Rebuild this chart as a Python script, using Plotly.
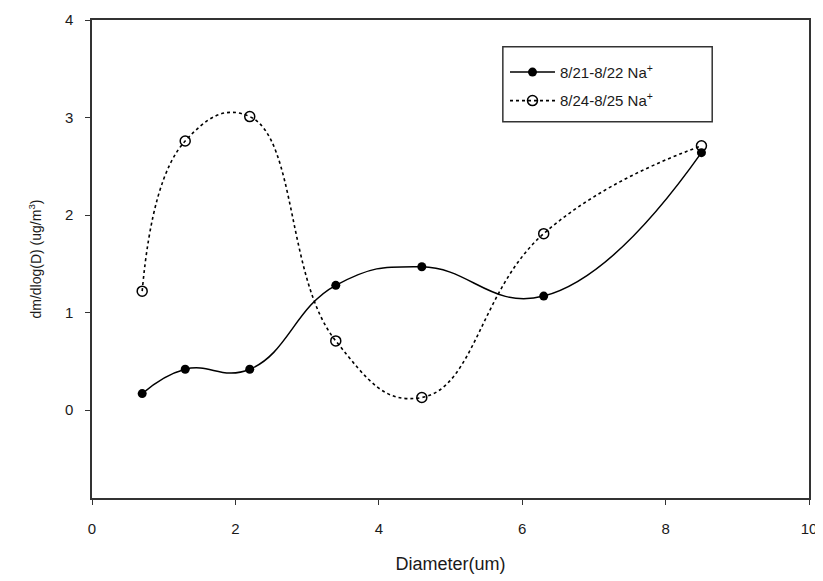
import plotly.graph_objects as go

diameter = [0.7, 1.3, 2.2, 3.4, 4.6, 6.3, 8.5]
na_0821 = [0.17, 0.42, 0.42, 1.28, 1.47, 1.17, 2.64]
na_0824 = [1.22, 2.76, 3.01, 0.71, 0.13, 1.81, 2.71]
series_names = ["8/21-8/22 Na<sup>+</sup>", "8/24-8/25 Na<sup>+</sup>"]
x_ticks = [0, 2, 4, 6, 8, 10]
y_ticks = [0, 1, 2, 3, 4]

fig = go.Figure()
fig.add_trace(go.Scatter(
    x=diameter, y=na_0821, name=series_names[0], mode="lines+markers",
    legendgroup="a",
    line=dict(color="black", width=1.5, shape="spline", smoothing=1.3),
    marker=dict(symbol="circle", size=9, color="black"),
))
fig.add_trace(go.Scatter(
    x=diameter, y=na_0824, name=series_names[1], mode="lines+markers",
    legendgroup="b",
    line=dict(color="black", width=1.6, dash="dot", shape="spline", smoothing=1.3),
    marker=dict(symbol="circle-open", size=10, color="black", line=dict(width=1.5)),
))

fig.update_layout(
    width=815, height=573,
    margin=dict(l=84, r=14, t=12, b=83, autoexpand=False),
    paper_bgcolor="white", plot_bgcolor="white",
    font=dict(family="Arial, Liberation Sans, sans-serif", color="#1a1a1a", size=14),
    legend=dict(
        x=0.576, y=0.925, xanchor="left", yanchor="top",
        borderwidth=0, bgcolor="rgba(0,0,0,0)",
        font=dict(size=15), tracegroupgap=6, itemwidth=45,
    ),
    shapes=[dict(
        type="rect", xref="paper", yref="paper",
        x0=0.573, x1=0.865, y0=0.787, y1=0.944,
        line=dict(color="#333", width=1.5), fillcolor="rgba(0,0,0,0)",
    )],
    xaxis=dict(
        range=[0, 10], tickvals=x_ticks, showgrid=False, zeroline=False,
        showline=True, linecolor="#333", linewidth=1.5, mirror=True,
        ticks="outside", ticklen=5, tickcolor="#333", automargin=False,
        ticklabelstandoff=11, tickfont=dict(size=15),
        title=dict(text="Diameter(um)", font=dict(size=18), standoff=22),
    ),
    yaxis=dict(
        range=[-0.9, 4], tickvals=y_ticks, showgrid=False, zeroline=False,
        showline=True, linecolor="#333", linewidth=1.5, mirror=True,
        ticks="outside", ticklen=5, tickcolor="#333", automargin=False,
        ticklabelstandoff=9, tickfont=dict(size=15),
        title=dict(text="dm/dlog(D) (ug/m<sup>3</sup>)", font=dict(size=14), standoff=20),
    ),
)

fig.write_html("out.html")
